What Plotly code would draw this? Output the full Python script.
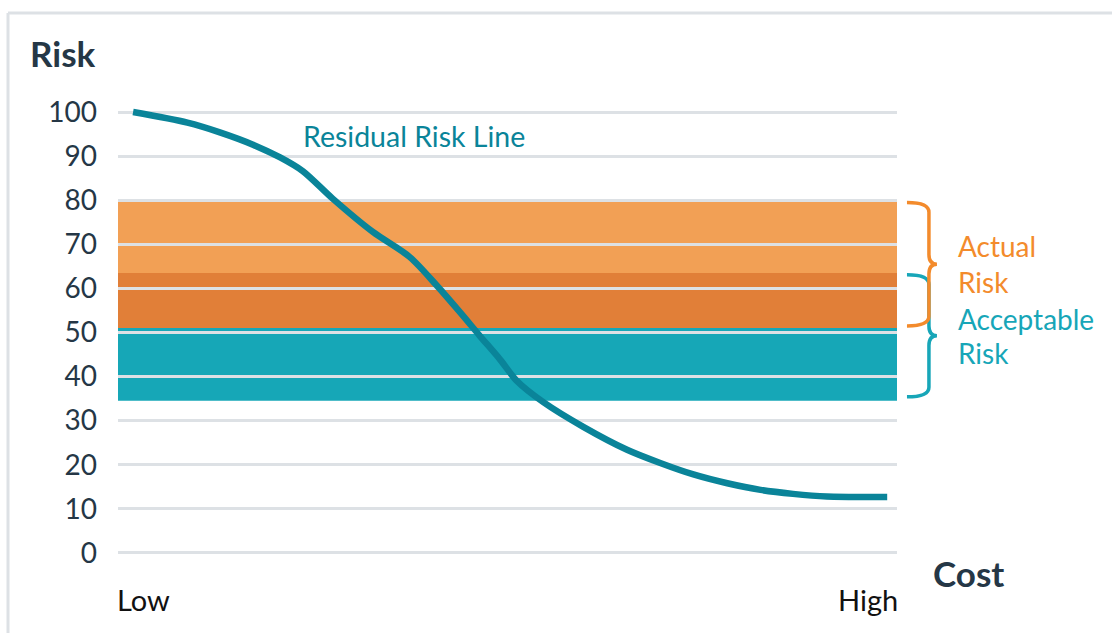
import plotly.graph_objects as go

# Residual risk curve: cost (0 = Low, 100 = High) vs. remaining risk
cost = [0, 7.2, 11.5, 15.9, 19.5, 22.5, 26.5, 31.8, 36.7, 40.3, 43.4, 46.0,
        48.7, 50.9, 54.4, 59.7, 65.5, 69.9, 74.3, 78.8, 83.2, 87.5, 92.0, 100]
residual_risk = [100, 97.6, 95.4, 92.6, 89.7, 86.6, 80.3, 72.8, 67.1, 60.6, 54.5, 49.2,
                 43.8, 39.0, 34.2, 28.6, 23.4, 20.4, 17.8, 15.8, 14.3, 13.4, 12.8, 12.7]

# Risk bands (low, high)
actual_risk = [51, 80]
acceptable_risk = [34.5, 63.5]

y_ticks = [0, 10, 20, 30, 40, 50, 60, 70, 80, 90, 100]
x_labels = ["Low", "High"]

FONT = "Lato"
NAVY = "#253746"
GRID = "#DDE1E5"
LINE = "#0A8499"
ORANGE = "#F2A055"
ORANGE_DARK = "#E17F38"
TEAL = "#16A7B7"
ORANGE_TXT = "#F38B2C"
TEAL_TXT = "#17A6B8"

fig = go.Figure()
fig.add_trace(go.Scatter(
    x=cost, y=residual_risk, mode="lines",
    line=dict(color=LINE, width=6.5, shape="spline", smoothing=0.8),
    hoverinfo="skip", showlegend=False,
))

shapes = []
# bands sit underneath the gridlines
shapes.append(dict(type="rect", xref="paper", yref="y", x0=0, x1=1,
                   y0=acceptable_risk[0], y1=acceptable_risk[1],
                   fillcolor=TEAL, line=dict(width=0), layer="below"))
shapes.append(dict(type="rect", xref="paper", yref="y", x0=0, x1=1,
                   y0=actual_risk[0], y1=actual_risk[1],
                   fillcolor=ORANGE, line=dict(width=0), layer="below"))
shapes.append(dict(type="rect", xref="paper", yref="y", x0=0, x1=1,
                   y0=max(actual_risk[0], acceptable_risk[0]),
                   y1=min(actual_risk[1], acceptable_risk[1]),
                   fillcolor=ORANGE_DARK, line=dict(width=0), layer="below"))


def brace(lo, hi, color):
    x0, xm, x1 = 1.0128, 1.0410, 1.0513
    r = 2.2
    mid = (lo + hi) / 2
    path = (f"M {x0},{hi} Q {xm},{hi} {xm},{hi - r} "
            f"L {xm},{mid + r} Q {xm},{mid} {x1},{mid} "
            f"Q {xm},{mid} {xm},{mid - r} "
            f"L {xm},{lo + r} Q {xm},{lo} {x0},{lo}")
    return dict(type="path", xref="paper", yref="y", path=path,
                line=dict(color=color, width=3.5), layer="above")


shapes.append(brace(acceptable_risk[0] + 0.9, acceptable_risk[1] - 0.4, TEAL_TXT))
shapes.append(brace(actual_risk[0] + 0.5, actual_risk[1] - 0.5, ORANGE_TXT))

# outer frame (top and left edges)
shapes.append(dict(type="line", xref="paper", yref="paper",
                   x0=-0.1412, x1=1.3, y0=1.1588, y1=1.1588,
                   line=dict(color=GRID, width=3)))
shapes.append(dict(type="line", xref="paper", yref="paper",
                   x0=-0.1412, x1=-0.1412, y0=1.1588, y1=-0.2,
                   line=dict(color=GRID, width=3)))


def label(text, x, y, size, color, xref="paper", yref="paper", xanchor="left"):
    return dict(text=text, xref=xref, yref=yref, x=x, y=y,
                xanchor=xanchor, yanchor="middle", showarrow=False,
                font=dict(family=FONT, size=size, color=color))


annotations = [
    label("<b>Risk</b>", -0.116, 1.076, 35, NAVY),
    label("<b>Cost</b>", 1.0435, 0.004, 35, NAVY),
    label(x_labels[0], -0.004, -0.0515, 29, "#111111"),
    label(x_labels[1], 1.004, -0.0515, 29, "#111111", xanchor="right"),
    label("Residual Risk Line", 22.2, 94.6, 28.5, LINE, xref="x", yref="y"),
    label("Actual", 1.0755, 69.6, 28, ORANGE_TXT, yref="y"),
    label("Risk", 1.0755, 61.5, 28, ORANGE_TXT, yref="y"),
    label("Acceptable", 1.0755, 53.1, 28, TEAL_TXT, yref="y"),
    label("Risk", 1.0755, 45.4, 28, TEAL_TXT, yref="y"),
]

fig.update_layout(
    width=1112, height=633,
    margin=dict(l=118, r=215, t=90, b=58),
    paper_bgcolor="white", plot_bgcolor="white",
    shapes=shapes, annotations=annotations,
    xaxis=dict(range=[-2, 101.3], showgrid=False, zeroline=False,
               showticklabels=False, showline=False, fixedrange=True),
    yaxis=dict(range=[-5, 105], tickvals=y_ticks, showgrid=True,
               gridcolor=GRID, gridwidth=3, zeroline=False, showline=False,
               ticks="", ticklabelstandoff=20,
               tickfont=dict(family=FONT, size=28, color=NAVY),
               fixedrange=True),
    showlegend=False,
)

fig.write_html("out.html")
